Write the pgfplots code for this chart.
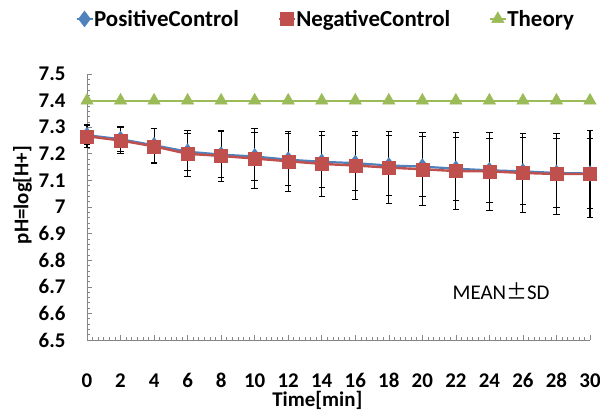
\documentclass[border=0pt]{standalone}
\usepackage{pgfplots}
\pgfplotsset{compat=1.18}
\usepackage{pgfplotstable}
\usepackage{fontspec}
\setmainfont{Carlito}
\newfontfamily\cjk{Noto Sans CJK JP}
\definecolor{pcblue}{HTML}{4F81BD}
\definecolor{ncred}{HTML}{C0504D}
\definecolor{thgreen}{HTML}{9BBB59}
\definecolor{axgray}{HTML}{868686}

\pgfplotstableread{
x pos possd neg negsd th
0 7.270 0.035 7.266 0.043 7.4
2 7.255 0.047 7.250 0.050 7.4
4 7.232 0.064 7.228 0.066 7.4
6 7.208 0.070 7.200 0.087 7.4
8 7.197 0.085 7.192 0.095 7.4
10 7.190 0.090 7.182 0.113 7.4
12 7.178 0.098 7.172 0.113 7.4
14 7.170 0.098 7.162 0.122 7.4
16 7.165 0.103 7.156 0.128 7.4
18 7.156 0.111 7.148 0.134 7.4
20 7.152 0.114 7.142 0.138 7.4
22 7.144 0.119 7.135 0.145 7.4
24 7.138 0.120 7.134 0.146 7.4
26 7.134 0.126 7.128 0.150 7.4
28 7.128 0.128 7.124 0.154 7.4
30 7.126 0.131 7.124 0.163 7.4
}\data

\begin{document}
\begin{tikzpicture}
\useasboundingbox (-87bp,-72bp) rectangle (513bp,340bp);
\begin{axis}[
  at={(0,0)}, anchor=south west,
  scale only axis, width=503bp, height=266bp,
  xmin=0, xmax=30, ymin=6.5, ymax=7.5,
  clip=false,
  axis x line=bottom, axis y line=left,
  axis line style={-, draw=axgray, line width=0.8bp},
  tick align=inside,
  xtick={0,2,4,6,8,10,12,14,16,18,20,22,24,26,28,30},
  minor x tick num=5,
  ytick={6.5,6.6,6.7,6.8,6.9,7,7.1,7.2,7.3,7.4,7.5},
  yticklabels={6.5,6.6,6.7,6.8,6.9,7,7.1,7.2,7.3,7.4,7.5},
  minor y tick num=4,
  major tick length=5bp, minor tick length=3bp,
  tick style={draw=axgray, line width=0.6bp},
  /pgf/number format/assume math mode=true,
  ticklabel style={font=\fontsize{21}{21}\selectfont\bfseries},
  xticklabel style={anchor=base, yshift=-47bp},
  yticklabel style={xshift=-18bp},
  xlabel={Time[min]}, ylabel={pH=log[H+]},
  label style={font=\fontsize{21}{21}\selectfont\bfseries},
  xlabel style={at={(axis description cs:0.458,0)}, anchor=base, yshift=-66bp},
  ylabel style={at={(axis description cs:-0.128,0.545)}, anchor=center},
  legend style={at={(axis description cs:0.473,1.25)}, anchor=north, draw=none, fill=none,
    legend columns=3, font=\fontsize{23}{23}\selectfont\bfseries,
    /tikz/every even column/.append style={column sep=38bp},
    nodes={inner sep=0.5bp}},
  legend cell align=left,
  legend image code/.code={\draw[mark repeat=2,mark phase=2] plot coordinates {(0bp,0bp) (8bp,0bp) (16bp,0bp)};},
]
\addplot[draw=none, mark=none, forget plot,
  error bars/.cd, y dir=both, y explicit,
  error bar style={draw=black, line width=1.1bp},
  error mark options={rotate=90, draw=black, mark size=3.2bp, line width=1bp}]
  table[x=x, y=neg, y error=negsd] {\data};
\addplot[draw=none, mark=none, forget plot,
  error bars/.cd, y dir=both, y explicit,
  error bar style={draw=black, line width=1.1bp},
  error mark options={rotate=90, draw=black, mark size=3.2bp, line width=1bp}]
  table[x=x, y=pos, y error=possd] {\data};
\addplot[pcblue, line width=2.2bp, mark=diamond*, mark size=8bp,
  mark options={solid, fill=pcblue, draw=pcblue, line width=0.4bp}]
  table[x=x, y=pos] {\data};
\addlegendentry{PositiveControl}
\addplot[ncred, line width=2.4bp, mark=square*, mark size=6.5bp,
  mark options={solid, fill=ncred, draw=ncred, line width=0.4bp}]
  table[x=x, y=neg] {\data};
\addlegendentry{NegativeControl}
\addplot[thgreen, line width=2bp, mark=triangle*, mark size=7.2bp,
  mark options={solid, fill=thgreen, draw=thgreen, line width=0.4bp}]
  table[x=x, y=th] {\data};
\addlegendentry{Theory}
\node[font=\fontsize{21}{21}\selectfont, anchor=center] at (axis cs:24.7,6.684) {MEAN{\cjk ±}SD};
\end{axis}
\end{tikzpicture}
\end{document}
